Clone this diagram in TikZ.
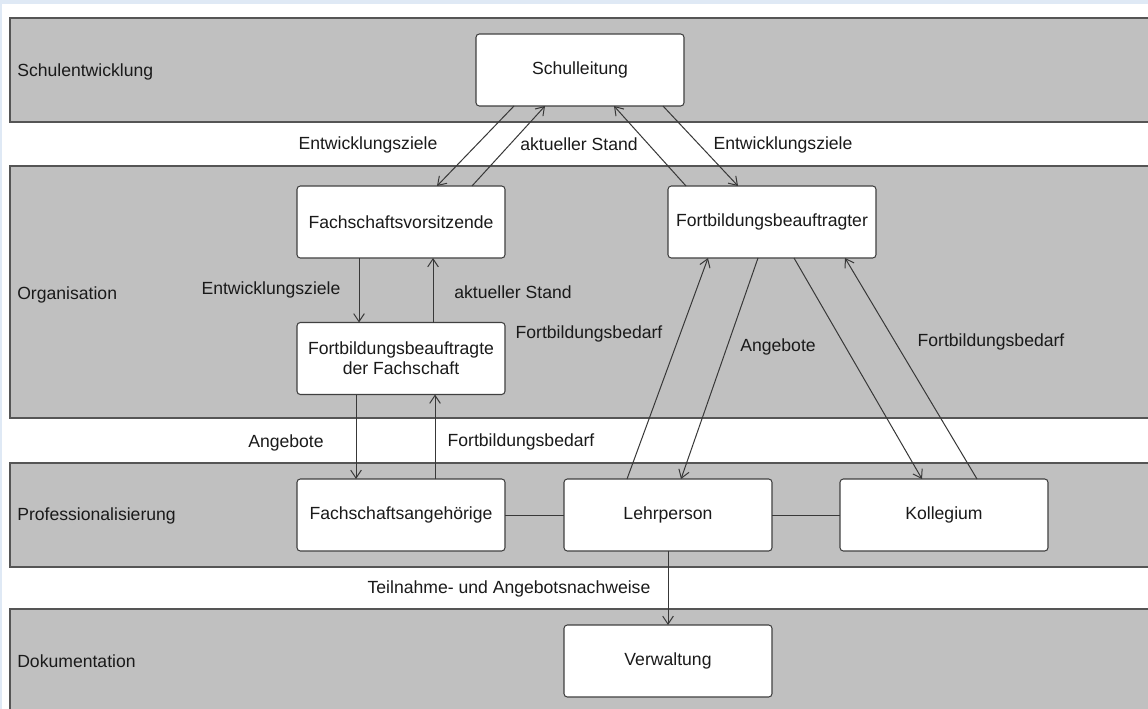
\documentclass[tikz,border=0pt]{standalone}
\usepackage{fontspec}
\setmainfont{Liberation Sans}
\usetikzlibrary{arrows.meta}
\newlength\pxu
\setlength\pxu{0.75pt}
\definecolor{bandfill}{HTML}{C0C0C0}
\definecolor{bandline}{HTML}{555555}
\definecolor{boxline}{HTML}{404040}
\definecolor{wire}{HTML}{383838}
\definecolor{ink}{HTML}{1A1A1A}
\definecolor{frame}{HTML}{DFE9F5}
\begin{document}
\begin{tikzpicture}[x=0.75pt,y=-0.75pt,
  every node/.style={font=\fontsize{13.2pt}{15pt}\selectfont, text=ink},
  band/.style={fill=bandfill, draw=bandline, line width=1.1pt},
  unit/.style={draw=boxline, fill=white, line width=0.8pt, rounded corners=2.5pt,
    minimum width=208\pxu, minimum height=72\pxu, inner sep=0pt, outer sep=0pt, align=center},
  flow/.style={draw=wire, line width=0.75pt, -{Straight Barb[length=6pt,width=8pt]}},
  link/.style={draw=wire, line width=0.75pt},
  lbl/.style={inner sep=0pt},
  tier/.style={inner sep=0pt, anchor=west}]
\useasboundingbox (0,0) rectangle (1148,709);
\begin{scope}
\clip (0,0) rectangle (1148,709);
\fill[white] (0,0) rectangle (1148,709);
\fill[frame] (0,0) rectangle (1148,4);
\fill[frame] (0,0) rectangle (2,709);
% horizontal bands
\draw[band] (10,18) rectangle (1160,122);
\draw[band] (10,166) rectangle (1160,418);
\draw[band] (10,463) rectangle (1160,567);
\draw[band] (10,609) rectangle (1160,730);
\end{scope}

% band titles
\node[tier] (t1) at (17,72) {Schulentwicklung};
\node[tier] (t2) at (17,295) {Organisation};
\node[tier] (t3) at (17,516) {Professionalisierung};
\node[tier] (t4) at (17,661) {Dokumentation};

% boxes
\node[unit] (sl)  at (580,70)    {Schulleitung};
\node[unit] (fv)  at (401,222)   {Fachschaftsvorsitzende};
\node[unit] (fb)  at (772,222)   {Fortbildungsbeauftragter};
\node[unit] (fbf) at (401,358.5) {Fortbildungsbeauftragte\\der Fachschaft};
\node[unit] (fa)  at (401,515)   {Fachschaftsangehörige};
\node[unit] (lp)  at (668,515)   {Lehrperson};
\node[unit] (ko)  at (944,515)   {Kollegium};
\node[unit] (vw)  at (668,661)   {Verwaltung};

% connectors
\draw[flow] ([xshift=-66\pxu]sl.south) -- ([xshift=36\pxu]fv.north);
\draw[flow] ([xshift=71\pxu]fv.north) -- ([xshift=-35\pxu]sl.south);
\draw[flow] ([xshift=-86\pxu]fb.north) -- ([xshift=34\pxu]sl.south);
\draw[flow] ([xshift=83\pxu]sl.south) -- ([xshift=-34\pxu]fb.north);

\draw[flow] ([xshift=-42\pxu]fv.south) -- ([xshift=-42\pxu]fbf.north);
\draw[flow] ([xshift=32\pxu]fbf.north) -- ([xshift=32\pxu]fv.south);
\draw[flow] ([xshift=-45\pxu]fbf.south) -- ([xshift=-45\pxu]fa.north);
\draw[flow] ([xshift=34\pxu]fa.north) -- ([xshift=34\pxu]fbf.south);

\draw[flow] ([xshift=-41\pxu]lp.north) -- ([xshift=-64\pxu]fb.south);
\draw[flow] ([xshift=-14\pxu]fb.south) -- ([xshift=13\pxu]lp.north);
\draw[flow] ([xshift=22\pxu]fb.south) -- ([xshift=-22\pxu]ko.north);
\draw[flow] ([xshift=33\pxu]ko.north) -- ([xshift=73\pxu]fb.south);

\draw[link] (fa.east) -- (lp.west);
\draw[link] (lp.east) -- (ko.west);
\draw[flow] (lp.south) -- (vw.north);

% connector labels
\node[lbl] (l1)  at (368,145) {Entwicklungsziele};
\node[lbl] (l2)  at (579,144) {aktueller Stand};
\node[lbl] (l3)  at (783,145) {Entwicklungsziele};
\node[lbl] (l4)  at (271,290) {Entwicklungsziele};
\node[lbl] (l5)  at (513,292) {aktueller Stand};
\node[lbl] (l6)  at (589,334) {Fortbildungsbedarf};
\node[lbl] (l7)  at (778,347) {Angebote};
\node[lbl] (l8)  at (991,342) {Fortbildungsbedarf};
\node[lbl] (l9)  at (286,443) {Angebote};
\node[lbl] (l10) at (521,442) {Fortbildungsbedarf};
\node[lbl] (l11) at (509,589) {Teilnahme- und Angebotsnachweise};
\end{tikzpicture}
\end{document}
